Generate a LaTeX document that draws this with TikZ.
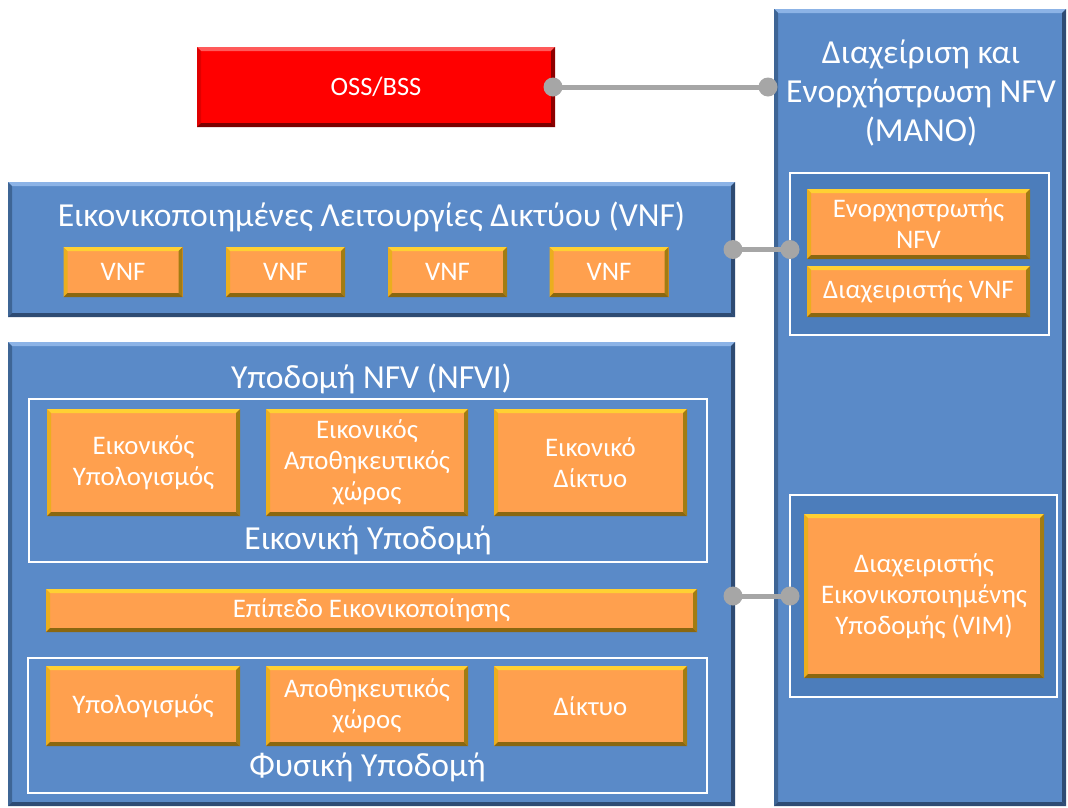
\documentclass[tikz,border=0pt]{standalone}
\usepackage{fontspec}
\setmainfont{Carlito}
\definecolor{bblue}{HTML}{5A8AC8}
\definecolor{bbluedk}{HTML}{4C7DBB}
\definecolor{bdark}{HTML}{2E4B73}
\definecolor{bside}{HTML}{3E6595}
\definecolor{blight}{HTML}{8CB3E6}
\definecolor{orng}{HTML}{FFA04E}
\definecolor{otop}{HTML}{FFD033}
\definecolor{oleft}{HTML}{EBAE1E}
\definecolor{oright}{HTML}{A27C12}
\definecolor{obot}{HTML}{8A6710}
\definecolor{rred}{HTML}{FF0000}
\definecolor{rtop}{HTML}{FF5A5A}
\definecolor{rleft}{HTML}{E00000}
\definecolor{rright}{HTML}{8E0000}
\definecolor{rbot}{HTML}{7A0000}
\definecolor{cgray}{HTML}{A6A6A6}
% four bevel strips inside the current node: width, top, left, right, bottom
\newcommand\bevelpic[5]{%
  \fill[#2] (path picture bounding box.north west) -- (path picture bounding box.north east)
    -- ([xshift=-#1,yshift=-#1]path picture bounding box.north east) -- ([xshift=#1,yshift=-#1]path picture bounding box.north west) -- cycle;
  \fill[#3] (path picture bounding box.north west) -- ([xshift=#1,yshift=-#1]path picture bounding box.north west)
    -- ([xshift=#1,yshift=#1]path picture bounding box.south west) -- (path picture bounding box.south west) -- cycle;
  \fill[#4] (path picture bounding box.north east) -- ([xshift=-#1,yshift=-#1]path picture bounding box.north east)
    -- ([xshift=-#1,yshift=#1]path picture bounding box.south east) -- (path picture bounding box.south east) -- cycle;
  \fill[#5] (path picture bounding box.south west) -- ([xshift=#1,yshift=#1]path picture bounding box.south west)
    -- ([xshift=-#1,yshift=#1]path picture bounding box.south east) -- (path picture bounding box.south east) -- cycle;
}
\tikzset{
  every node/.style={inner sep=0pt, outer sep=0pt, text=white, align=center},
  bigbox/.style={rectangle, fill=bblue, path picture={\bevelpic{4pt}{blight}{bside}{bdark}{bdark}}},
  obox/.style={rectangle, fill=orng, font=\fontsize{26.8}{31}\selectfont,
    path picture={\bevelpic{4pt}{otop}{oleft}{oright}{obot}}},
  rbox/.style={rectangle, fill=rred, font=\fontsize{26.5}{31}\selectfont,
    path picture={\bevelpic{4pt}{rtop}{rleft}{rright}{rbot}}},
  wframe/.style={rectangle, draw=white, line width=2.5pt},
  mframe/.style={wframe, fill=bbluedk},
  ttl/.style={font=\fontsize{33.6}{40}\selectfont, anchor=base},
  conn/.style={draw=cgray, line width=5pt},
  dot/.style={fill=cgray},
}
\begin{document}
\begin{tikzpicture}[x=1pt, y=-1pt]
\useasboundingbox (0,0) rectangle (1068,807);

% management and orchestration column
\node[bigbox, minimum width=292, minimum height=797] (mano) at (920,407.5) {};
\node[ttl] (manot1) at (921,63) {Διαχείριση και};
\node[ttl] (manot2) at (921,102) {Ενορχήστρωση NFV};
\node[ttl] (manot3) at (921,141) {(MANO)};
\node[mframe, minimum width=259, minimum height=162] (manoA) at (919.5,254) {};
\node[obox, minimum width=223, minimum height=70] (orch) at (918.5,224) {Ενορχηστρωτής\\NFV};
\node[obox, minimum width=223, minimum height=51] (vnfm) at (918.5,291.5) {Διαχειριστής VNF};
\node[mframe, minimum width=267, minimum height=202] (manoB) at (923.5,596) {};
\node[obox, minimum width=240, minimum height=164] (vim) at (924,596) {Διαχειριστής\\Εικονικοποιημένης\\Υποδομής (VIM)};

% OSS/BSS
\node[rbox, minimum width=358, minimum height=80] (oss) at (376,87) {OSS/BSS};

% virtualised network functions
\node[bigbox, minimum width=727, minimum height=135] (vnfl) at (371.5,249.5) {};
\node[ttl] (vnft) at (371.5,226) {Εικονικοποιημένες Λειτουργίες Δικτύου (VNF)};
\node[obox, minimum width=119, minimum height=50] (vnf1) at (123,272) {VNF};
\node[obox, minimum width=119, minimum height=50] (vnf2) at (285.5,272) {VNF};
\node[obox, minimum width=119, minimum height=50] (vnf3) at (447.5,272) {VNF};
\node[obox, minimum width=119, minimum height=50] (vnf4) at (609,272) {VNF};

% NFV infrastructure
\node[bigbox, minimum width=727, minimum height=464] (nfvi) at (371.5,574) {};
\node[ttl] (nfvit) at (371.5,388) {Υποδομή NFV (NFVI)};
\node[wframe, minimum width=678, minimum height=163] (virt) at (368,480.5) {};
\node[obox, minimum width=193, minimum height=107] (vc) at (143.5,462.5) {Εικονικός\\Υπολογισμός};
\node[obox, minimum width=202, minimum height=107] (vs) at (367,462.5) {Εικονικός\\Αποθηκευτικός\\χώρος};
\node[obox, minimum width=193, minimum height=107] (vn) at (590.5,462.5) {Εικονικό\\Δίκτυο};
\node[ttl] (virtt) at (368,549) {Εικονική Υποδομή};
\node[obox, minimum width=651, minimum height=43] (vlayer) at (371.5,610.5) {Επίπεδο Εικονικοποίησης};
\node[wframe, minimum width=679, minimum height=135] (phys) at (367.5,725.5) {};
\node[obox, minimum width=194, minimum height=80] (pc) at (143,706) {Υπολογισμός};
\node[obox, minimum width=202, minimum height=80] (ps) at (367,706) {Αποθηκευτικός\\χώρος};
\node[obox, minimum width=193, minimum height=80] (pn) at (590.5,706) {Δίκτυο};
\node[ttl] (physt) at (367.5,776) {Φυσική Υποδομή};

% reference-point connectors
\coordinate (c1a) at ([xshift=-2pt]oss.east);
\coordinate (c1b) at ([xshift=-6pt]mano.west |- oss.east);
\coordinate (c2a) at ([xshift=-2pt]vnfl.east);
\coordinate (c2b) at (manoA.west |- vnfl.east);
\coordinate (c3a) at ([xshift=-2pt]nfvi.east |- manoB.west);
\coordinate (c3b) at (manoB.west);
\foreach \a/\b in {c1a/c1b, c2a/c2b, c3a/c3b}{
  \draw[conn] (\a) -- (\b);
  \fill[dot] (\a) circle (9.5);
  \fill[dot] (\b) circle (9.5);
}
\end{tikzpicture}
\end{document}
